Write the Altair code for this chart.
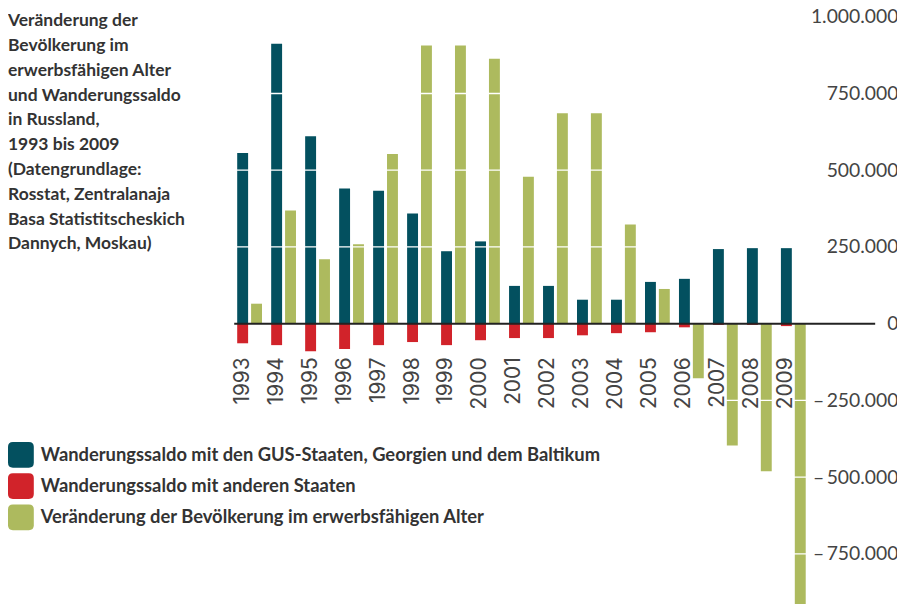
import altair as alt
import pandas as pd

years = [str(y) for y in range(1993, 2010)]
gus = [556000, 912000, 611000, 440000, 433000, 359000, 236000, 268000, 123000,
       123000, 78000, 78000, 136000, 146000, 243000, 246000, 246000]
andere = [-64000, -70000, -90000, -83000, -70000, -60000, -70000, -54000, -47000,
          -47000, -38000, -31000, -28000, -12000, -4000, -4000, -8000]
erwerb = [65000, 369000, 210000, 259000, 553000, 906000, 906000, 863000, 479000,
          686000, 686000, 323000, 113000, -178000, -397000, -481000, -950000]

series_names = [
    "Wanderungssaldo mit den GUS-Staaten, Georgien und dem Baltikum",
    "Wanderungssaldo mit anderen Staaten",
    "Veränderung der Bevölkerung im erwerbsfähigen Alter",
]
colors = ["#03505f", "#d1232a", "#adba5e"]
slots = ["a", "a", "b"]

title_lines = [
    "Veränderung der",
    "Bevölkerung im",
    "erwerbsfähigen Alter",
    "und Wanderungssaldo",
    "in Russland,",
    "1993 bis 2009",
    "(Datengrundlage:",
    "Rosstat, Zentralanaja",
    "Basa Statistitscheskich",
    "Dannych, Moskau)",
]
y_ticks = [-750000, -500000, -250000, 0, 250000, 500000, 750000, 1000000]
grid_values = [-750000, -500000, -250000, 250000, 500000, 750000]

rows = []
for name, vals, slot in zip(series_names, [gus, andere, erwerb], slots):
    for yr, v in zip(years, vals):
        rows.append({"year": yr, "series": name, "value": v, "slot": slot})
df = pd.DataFrame(rows)
year_df = pd.DataFrame({"year": years, "slot": ["a"] * len(years)})
grid_df = pd.DataFrame({"v": grid_values})
zero_df = pd.DataFrame({"v": [0]})
title_df = pd.DataFrame({"k": [0]})

FONT = "Lato"
x_scale = alt.Scale(paddingInner=0.27, paddingOuter=0.0876, round=False)
off_scale = alt.Scale(paddingInner=3 / 14, paddingOuter=0, round=False)
y_scale = alt.Scale(domain=[-906000, 1021000], nice=False, zero=False)

rounded = ("M -0.62,-1 L 0.62,-1 Q 1,-1 1,-0.62 L 1,0.62 Q 1,1 0.62,1 "
           "L -0.62,1 Q -1,1 -1,0.62 L -1,-0.62 Q -1,-1 -0.62,-1 Z")

label_expr = (
    "datum.value < 0 ? '\u2013\u2009' + replace(format(-datum.value, ','), regexp(',', 'g'), '.')"
    " : replace(format(datum.value, ','), regexp(',', 'g'), '.')"
)

bars = alt.Chart(df).mark_bar().encode(
    x=alt.X("year:N", scale=x_scale, axis=None, sort=years),
    xOffset=alt.XOffset("slot:N", scale=off_scale),
    y=alt.Y(
        "value:Q",
        stack=None,
        scale=y_scale,
        axis=alt.Axis(
            orient="right", values=y_ticks, labelExpr=label_expr, ticks=False,
            tickSize=0, domain=False, grid=False, title=None, labelFont=FONT,
            labelFontSize=19.5, labelColor="#444", labelAlign="right",
            labelBaseline="middle", labelPadding=90, zindex=1,
        ),
    ),
    color=alt.Color(
        "series:N",
        scale=alt.Scale(domain=series_names, range=colors),
        legend=alt.Legend(
            orient="none", legendX=-228, legendY=435, title=None,
            direction="vertical", symbolType=rounded, symbolSize=676,
            symbolStrokeWidth=0, symbolOpacity=1, labelFont=FONT,
            labelFontSize=18.5, labelFontWeight="bold", labelColor="#333",
            labelLimit=900, rowPadding=5.5, labelOffset=7, padding=0, offset=0,
        ),
    ),
)

grid = alt.Chart(grid_df).mark_rule(color="white", strokeWidth=1.3).encode(
    y=alt.Y("v:Q", scale=y_scale)
)

zero = alt.Chart(zero_df).mark_rule(color="#222", strokeWidth=2).encode(
    y=alt.Y("v:Q", scale=y_scale), x=alt.value(0), x2=alt.value(646)
)

year_labels = alt.Chart(year_df).mark_text(
    angle=270, align="right", baseline="middle", dx=-34, font="Inter",
    fontSize=21, color="#444",
).encode(
    x=alt.X("year:N", scale=x_scale, sort=years),
    xOffset=alt.XOffset("slot:N", scale=off_scale),
    y=alt.datum(0, scale=y_scale),
    text="year:N",
)

title = alt.Chart(title_df).mark_text(
    text=title_lines, align="left", baseline="alphabetic", font=FONT,
    fontSize=17.6, fontWeight="bold", color="#333", lineHeight=25.0,
).encode(x=alt.value(-228), y=alt.value(16))

chart = alt.layer(bars, grid, zero, year_labels, title).properties(
    width=579,
    height=596,
    autosize=alt.AutoSizeParams(type="none"),
    padding={"left": 228, "top": 0, "right": 89, "bottom": 0},
).configure_view(stroke=None)

chart.save("out.html", embed_options={"renderer": "svg", "actions": False})
